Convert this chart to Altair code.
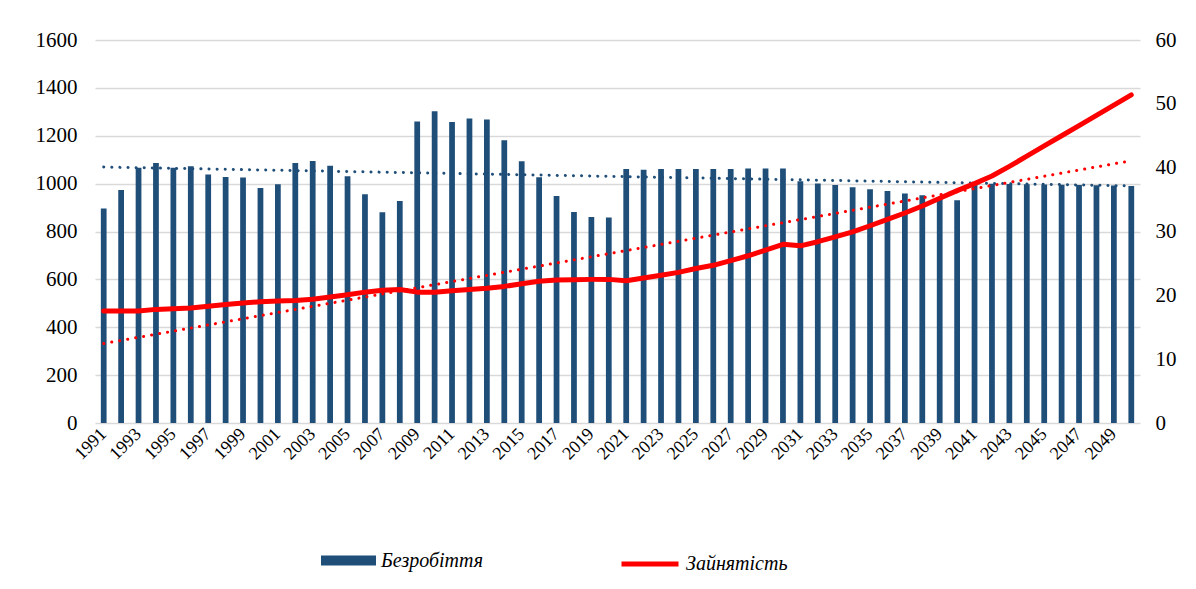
import altair as alt
import pandas as pd

years = list(range(1991, 2051))

unemployment = [
    896, 973, 1066, 1086, 1066, 1073, 1038, 1028, 1026, 982,
    997, 1086, 1095, 1075, 1031, 956, 880, 927, 1260, 1302,
    1257, 1272, 1268, 1181, 1093, 1027, 948, 881, 861, 859,
    1061, 1058, 1061, 1061, 1061, 1061, 1061, 1063, 1063, 1063,
    1010, 1001, 994, 985, 977, 969, 959, 951, 944, 931,
    1008, 1000, 998, 997, 996, 995, 994, 993, 992, 990,
]

employment = [
    17.55, 17.55, 17.55, 17.8, 17.9, 18.0, 18.3, 18.55, 18.8, 19.0,
    19.1, 19.2, 19.4, 19.75, 20.1, 20.5, 20.8, 20.9, 20.5, 20.5,
    20.7, 20.9, 21.1, 21.4, 21.8, 22.2, 22.4, 22.45, 22.5, 22.5,
    22.3, 22.7, 23.15, 23.6, 24.2, 24.7, 25.45, 26.2, 27.1, 28.0,
    27.75, 28.4, 29.15, 29.95, 30.9, 31.9, 32.9, 34.0, 35.2, 36.4,
    37.5, 38.7, 40.2, 41.8, 43.4, 45.0, 46.6, 48.2, 49.8, 51.4,
]

label_unemp = "Безробіття"
label_empl = "Зайнятість"
left_ticks = [0, 200, 400, 600, 800, 1000, 1200, 1400, 1600]
right_ticks = [0, 10, 20, 30, 40, 50, 60]
x_labels = years[::2]

BLUE = "#1f4e79"
RED = "#ff0000"
FONT = "Liberation Serif"

df = pd.DataFrame({"year": years, "unemp": unemployment, "empl": employment})
base = alt.Chart(df)

x_enc = alt.X(
    "year:O",
    scale=alt.Scale(paddingInner=0.67, paddingOuter=0.335),
    axis=alt.Axis(
        title=None, values=x_labels, labelAngle=-45, labelAlign="right",
        labelBaseline="middle", labelPadding=8, labelFont=FONT, labelFontSize=18,
        labelColor="#000000", domain=False, ticks=False, grid=False,
    ),
)

yl_scale = alt.Scale(domain=[0, 1600], nice=False)
yr_scale = alt.Scale(domain=[0, 60], nice=False)

bars = base.transform_calculate(series=f"'{label_unemp}'").mark_bar().encode(
    x=x_enc,
    y=alt.Y("unemp:Q", scale=yl_scale, axis=alt.Axis(
        title=None, values=left_ticks, format="d", orient="left", labelFont=FONT,
        labelFontSize=21, labelColor="#000000", labelPadding=18, domain=False,
        ticks=False, grid=True, gridColor="#d9d9d9", gridWidth=1.5)),
    fill=alt.Fill("series:N", scale=alt.Scale(domain=[label_unemp], range=[BLUE]),
                  legend=alt.Legend(
                      title=None, orient="none", legendX=226, legendY=493,
                      symbolType="M-1,-0.18L1,-0.18L1,0.18L-1,0.18Z", symbolSize=3025,
                      symbolStrokeWidth=0, labelFont=FONT, labelFontStyle="italic",
                      labelFontSize=20, labelColor="#000000", labelOffset=5, padding=0)),
)

blue_trend = base.transform_regression("year", "unemp").mark_line(
    color=BLUE, strokeWidth=3, strokeDash=[0.1, 8], strokeCap="round"
).encode(
    x="year:O",
    y=alt.Y("unemp:Q", scale=yl_scale),
)

left = alt.layer(bars, blue_trend)

red_line = base.transform_calculate(series=f"'{label_empl}'").mark_line(
    strokeWidth=5, strokeCap="round", strokeJoin="round"
).encode(
    x="year:O",
    y=alt.Y("empl:Q", scale=yr_scale, axis=alt.Axis(
        title=None, values=right_ticks, format="d", orient="right", labelFont=FONT,
        labelFontSize=21, labelColor="#000000", labelPadding=15, domain=False,
        ticks=False, grid=False)),
    stroke=alt.Stroke("series:N", scale=alt.Scale(domain=[label_empl], range=[RED]),
                      legend=alt.Legend(
                          title=None, orient="none", legendX=524, legendY=493,
                          symbolType="stroke", symbolSize=3249, symbolStrokeWidth=5,
                          labelFont=FONT, labelFontStyle="italic", labelFontSize=20,
                          labelColor="#000000", labelOffset=5, padding=0)),
)

red_trend = base.transform_regression("year", "empl").mark_line(
    color=RED, strokeWidth=3, strokeDash=[0.1, 8], strokeCap="round"
).encode(
    x="year:O",
    y=alt.Y("empl:Q", scale=yr_scale),
)

right = alt.layer(red_trend, red_line)

chart = alt.layer(left, right).resolve_scale(y="independent").properties(
    width=1045, height=383,
    autosize=alt.AutoSizeParams(type="none"),
    padding={"left": 87, "top": 32, "right": 40, "bottom": 160},
    background="#ffffff",
).configure_view(stroke=None)

chart.save("out.html", embed_options={"renderer": "svg", "actions": False})
